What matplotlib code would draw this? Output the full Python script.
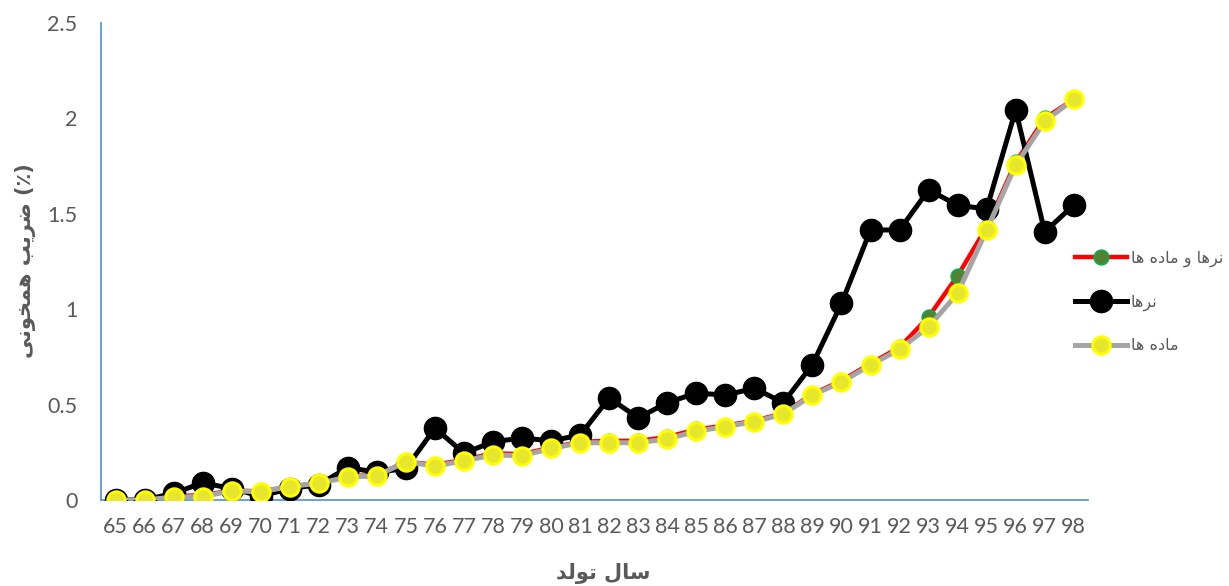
import matplotlib
matplotlib.use("Agg")
import matplotlib.pyplot as plt

# Birth years (Persian calendar, two-digit)
years = list(range(65, 99))
year_labels = [str(y) for y in years]

# Inbreeding coefficient (%) by birth year
both_sexes = [0, 0, 0.02, 0.025, 0.05, 0.045, 0.07, 0.09, 0.125, 0.13,
              0.2, 0.185, 0.21, 0.245, 0.24, 0.275, 0.305, 0.31, 0.31, 0.33,
              0.37, 0.39, 0.415, 0.455, 0.555, 0.625, 0.715, 0.80, 0.96, 1.175,
              1.43, 1.77, 2.0, 2.1]
males = [0, 0, 0.035, 0.09, 0.06, 0.02, 0.06, 0.08, 0.17, 0.145,
         0.165, 0.377, 0.245, 0.305, 0.325, 0.31, 0.34, 0.535, 0.43, 0.51,
         0.56, 0.55, 0.585, 0.51, 0.71, 1.03, 1.415, 1.415, 1.625, 1.545,
         1.525, 2.044, 1.405, 1.546]
females = [0, 0, 0.015, 0.018, 0.048, 0.043, 0.07, 0.088, 0.12, 0.127,
           0.2, 0.178, 0.205, 0.236, 0.232, 0.27, 0.3, 0.3, 0.3, 0.32,
           0.36, 0.385, 0.41, 0.45, 0.55, 0.618, 0.707, 0.79, 0.907, 1.083,
           1.415, 1.755, 1.985, 2.1]

# Persian strings in visual (presentation-form) order
lbl_both = "ﺎﻫ ﻩﺩﺎﻣ ﻭ ﺎﻫﺮﻧ"
lbl_males = "ﺎﻫﺮﻧ"
lbl_females = "ﺎﻫ ﻩﺩﺎﻣ"
x_title = "ﺪﻟﻮﺗ ﻝﺎﺳ"
y_title = "ﯽﻧﻮﺨﻤﻫ ﺐﯾﺮﺿ (٪)"

plt.rcParams['font.family'] = ['Lato', 'DejaVu Sans']
text_grey = '#595959'
axis_blue = '#5B9BD5'

fig = plt.figure(figsize=(12.29, 5.86), dpi=100)
ax = fig.add_axes([0.0822, 0.1468, 0.8033, 0.814])

ax.plot(years, both_sexes, color='#FF0000', lw=3.2, marker='o', ms=10.5,
        mfc='#548235', mec='#00B050', mew=1.2, zorder=2, label=lbl_both)
ax.plot(years, males, color='black', lw=3.6, marker='o', ms=16,
        mfc='black', mec='black', zorder=3, label=lbl_males)
ax.plot(years, females, color='#A5A5A5', lw=3.6, marker='o', ms=12.5,
        mfc='#E6E62E', mec='#FFFF00', mew=2.2, zorder=4, label=lbl_females)

ax.set_xlim(64.5, 98.5)
ax.set_ylim(0, 2.5)
ax.set_xticks(years)
ax.set_xticklabels(year_labels)
ax.set_yticks([0, 0.5, 1, 1.5, 2, 2.5])
ax.set_yticklabels(['0', '0.5', '1', '1.5', '2', '2.5'])
ax.tick_params(axis='both', length=0, labelsize=15.5, colors=text_grey)
ax.tick_params(axis='y', pad=17)
ax.tick_params(axis='x', pad=12)

for side in ('top', 'right'):
    ax.spines[side].set_visible(False)
for side in ('left', 'bottom'):
    ax.spines[side].set_color(axis_blue)
    ax.spines[side].set_linewidth(1.3)

fig.text(0.491, 0.004, x_title, ha='center', va='bottom', fontsize=15,
         fontweight='bold', color=text_grey, family=['DejaVu Sans'])
fig.text(0.012, 0.555, y_title, ha='left', va='center', rotation=90,
         fontsize=15, fontweight='bold', color=text_grey, family=['DejaVu Sans'])

leg = fig.legend(loc='center left', bbox_to_anchor=(0.866, 0.4846),
                 frameon=False, handlelength=3.2,
                 handletextpad=0.25, labelspacing=1.73, borderaxespad=0.3,
                 prop={'family': ['DejaVu Sans'], 'size': 11.5})
for t in leg.get_texts():
    t.set_color(text_grey)

fig.savefig('out.png', dpi=100, facecolor='white')
